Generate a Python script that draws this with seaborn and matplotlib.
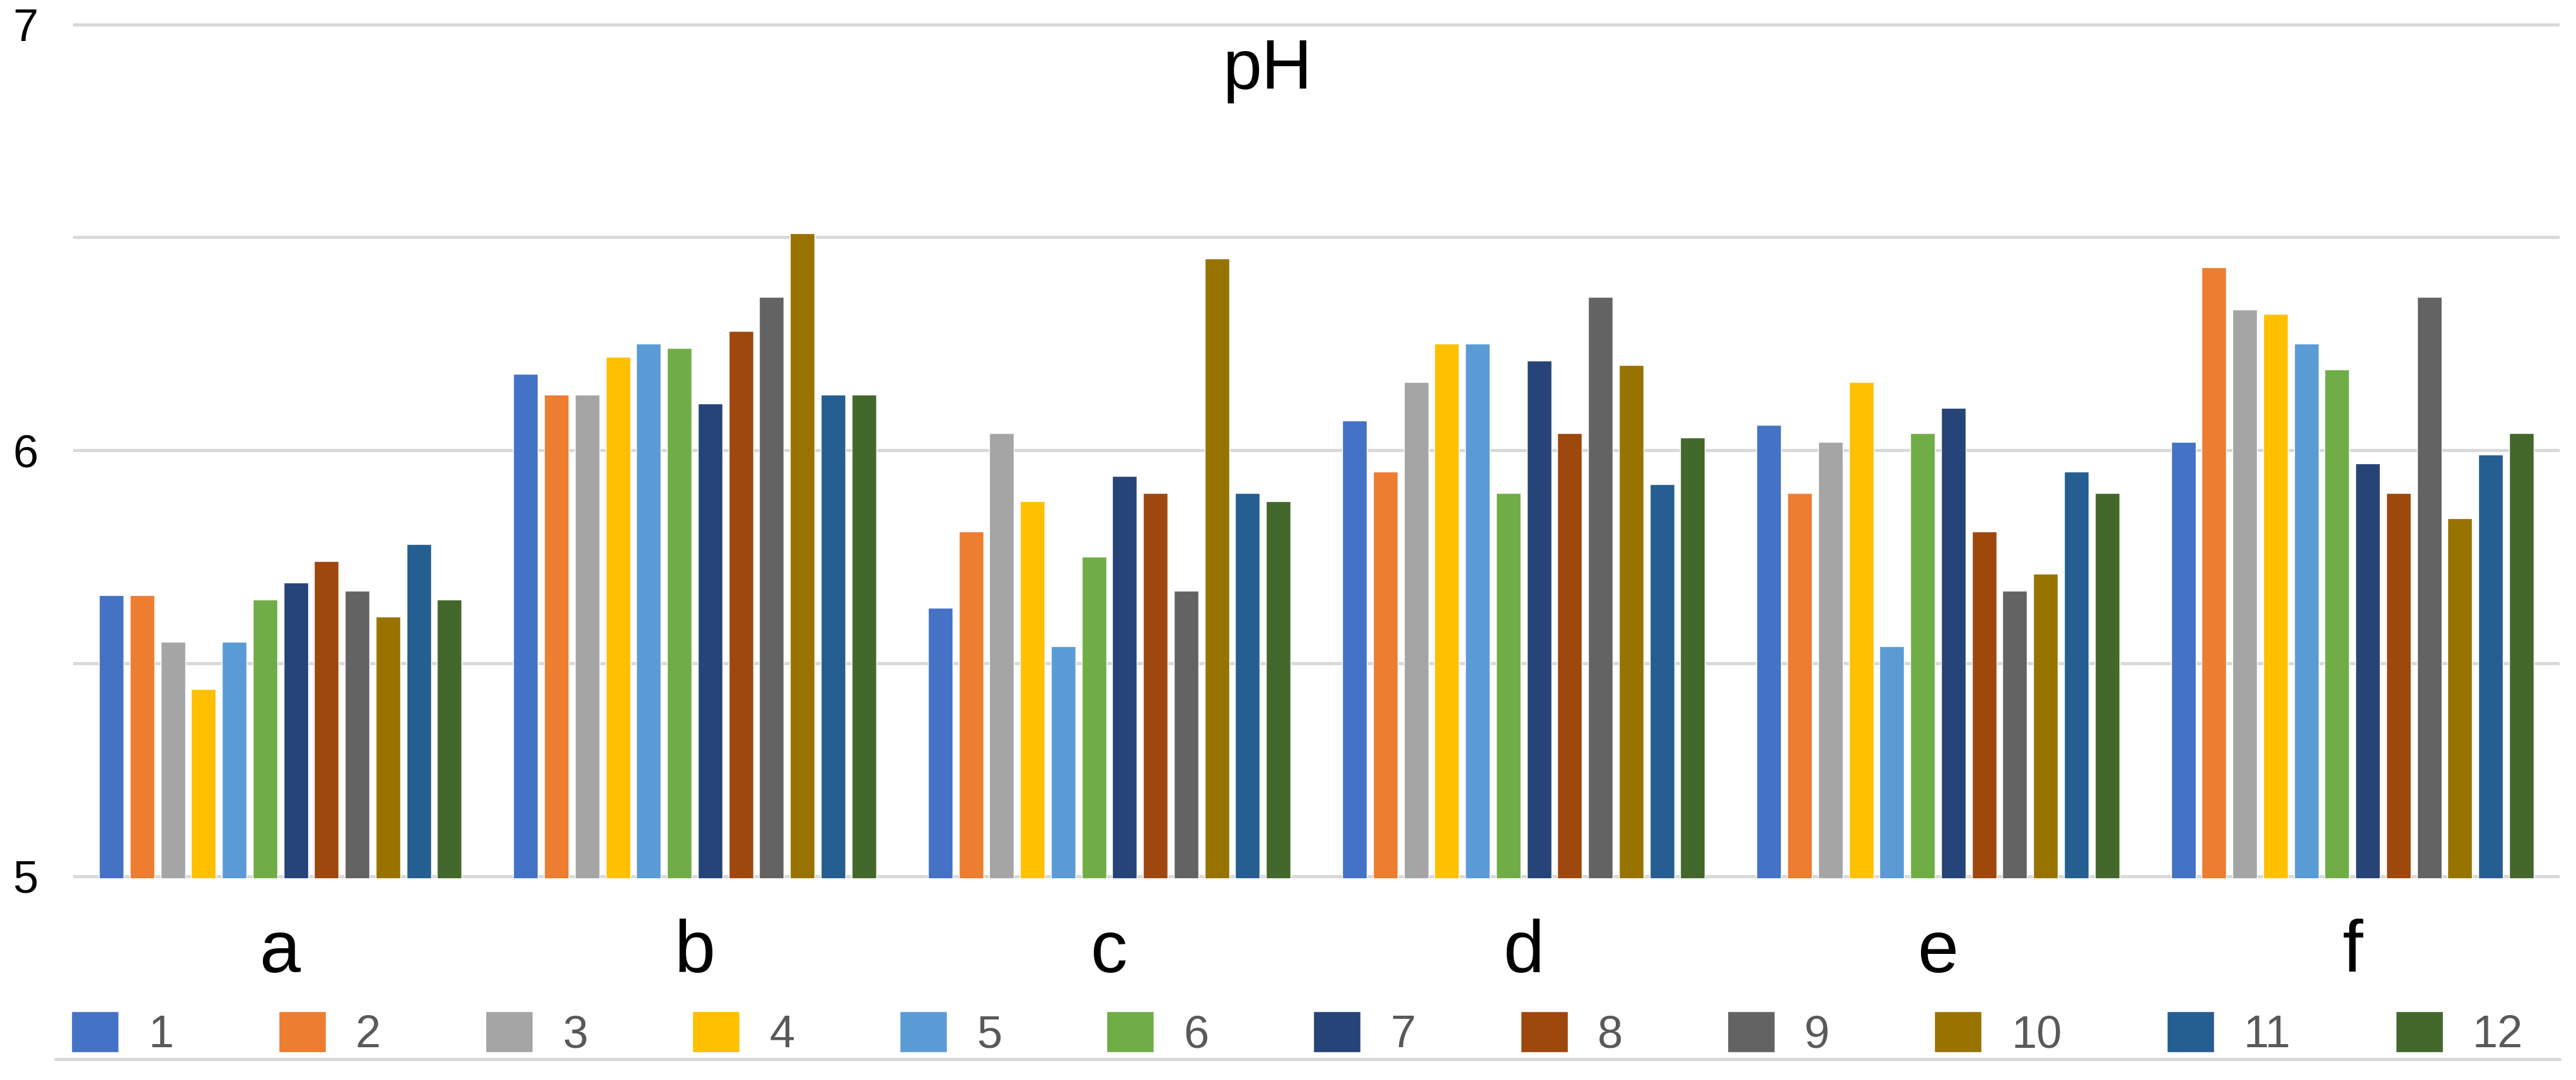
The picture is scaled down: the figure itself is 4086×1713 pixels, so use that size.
import pandas as pd
import matplotlib
matplotlib.use("Agg")
import matplotlib.pyplot as plt
from matplotlib.lines import Line2D
import seaborn as sns

# pH per site (a-f), one value per sample 1-12
sites = ["a", "b", "c", "d", "e", "f"]
samples = [str(i) for i in range(1, 13)]

ph_a = [5.66, 5.66, 5.55, 5.44, 5.55, 5.65, 5.69, 5.74, 5.67, 5.61, 5.78, 5.65]
ph_b = [6.18, 6.13, 6.13, 6.22, 6.25, 6.24, 6.11, 6.28, 6.36, 6.51, 6.13, 6.13]
ph_c = [5.63, 5.81, 6.04, 5.88, 5.54, 5.75, 5.94, 5.90, 5.67, 6.45, 5.90, 5.88]
ph_d = [6.07, 5.95, 6.16, 6.25, 6.25, 5.90, 6.21, 6.04, 6.36, 6.20, 5.92, 6.03]
ph_e = [6.06, 5.90, 6.02, 6.16, 5.54, 6.04, 6.10, 5.81, 5.67, 5.71, 5.95, 5.90]
ph_f = [6.02, 6.43, 6.33, 6.32, 6.25, 6.19, 5.97, 5.90, 6.36, 5.84, 5.99, 6.04]

colors = ["#4472C4", "#ED7D31", "#A5A5A5", "#FFC000", "#5B9BD5", "#70AD47",
          "#264478", "#9E480E", "#636363", "#997300", "#255E91", "#43682B"]

rows = []
for site, vals in zip(sites, [ph_a, ph_b, ph_c, ph_d, ph_e, ph_f]):
    for s, v in zip(samples, vals):
        rows.append({"site": site, "sample": s, "pH": v})
df = pd.DataFrame(rows)

sns.set_style("white")
plt.rcParams['font.family'] = ['Liberation Sans', 'DejaVu Sans']

fig = plt.figure(figsize=(40.87, 17.13), dpi=100)
ax = fig.add_axes([0.0284, 0.187, 0.965, 0.792])

sns.barplot(data=df, x="site", y="pH", hue="sample", order=sites,
            hue_order=samples, palette=colors, width=0.89, gap=0.2,
            errorbar=None, saturation=1, ax=ax)

ax.set_ylim(4.996, 7.004)
ax.set_yticks([5, 6, 7])
ax.set_yticks([5.5, 6.5], minor=True)
ax.grid(axis="y", which="both", color="#d9d9d9", linewidth=3.6)
ax.set_axisbelow(True)
for sp in ax.spines.values():
    sp.set_visible(False)
ax.tick_params(axis="y", which="both", length=0, labelsize=52, pad=40,
               labelcolor="black")
ax.tick_params(axis="x", length=0, labelsize=84, pad=46, labelcolor="black")
ax.set_xlabel("")
ax.set_ylabel("")

ax.text(0.4805, 0.982, "pH", transform=ax.transAxes, ha="center", va="top",
        fontsize=80, color="black")

handles, labels = ax.get_legend_handles_labels()
ax.legend(handles, labels, ncol=12, loc="center", frameon=False,
          bbox_to_anchor=(0.5035, 0.0425), bbox_transform=fig.transFigure,
          fontsize=52, handlelength=1.04, handleheight=1.0,
          handletextpad=0.65, columnspacing=2.3, labelcolor="#595959")

# thin rule under the legend
fig.add_artist(Line2D([0.0215, 0.9934], [0.0195, 0.0195], color="#d9d9d9",
                      linewidth=3.6, transform=fig.transFigure))

fig.savefig("out.png", dpi=100)
